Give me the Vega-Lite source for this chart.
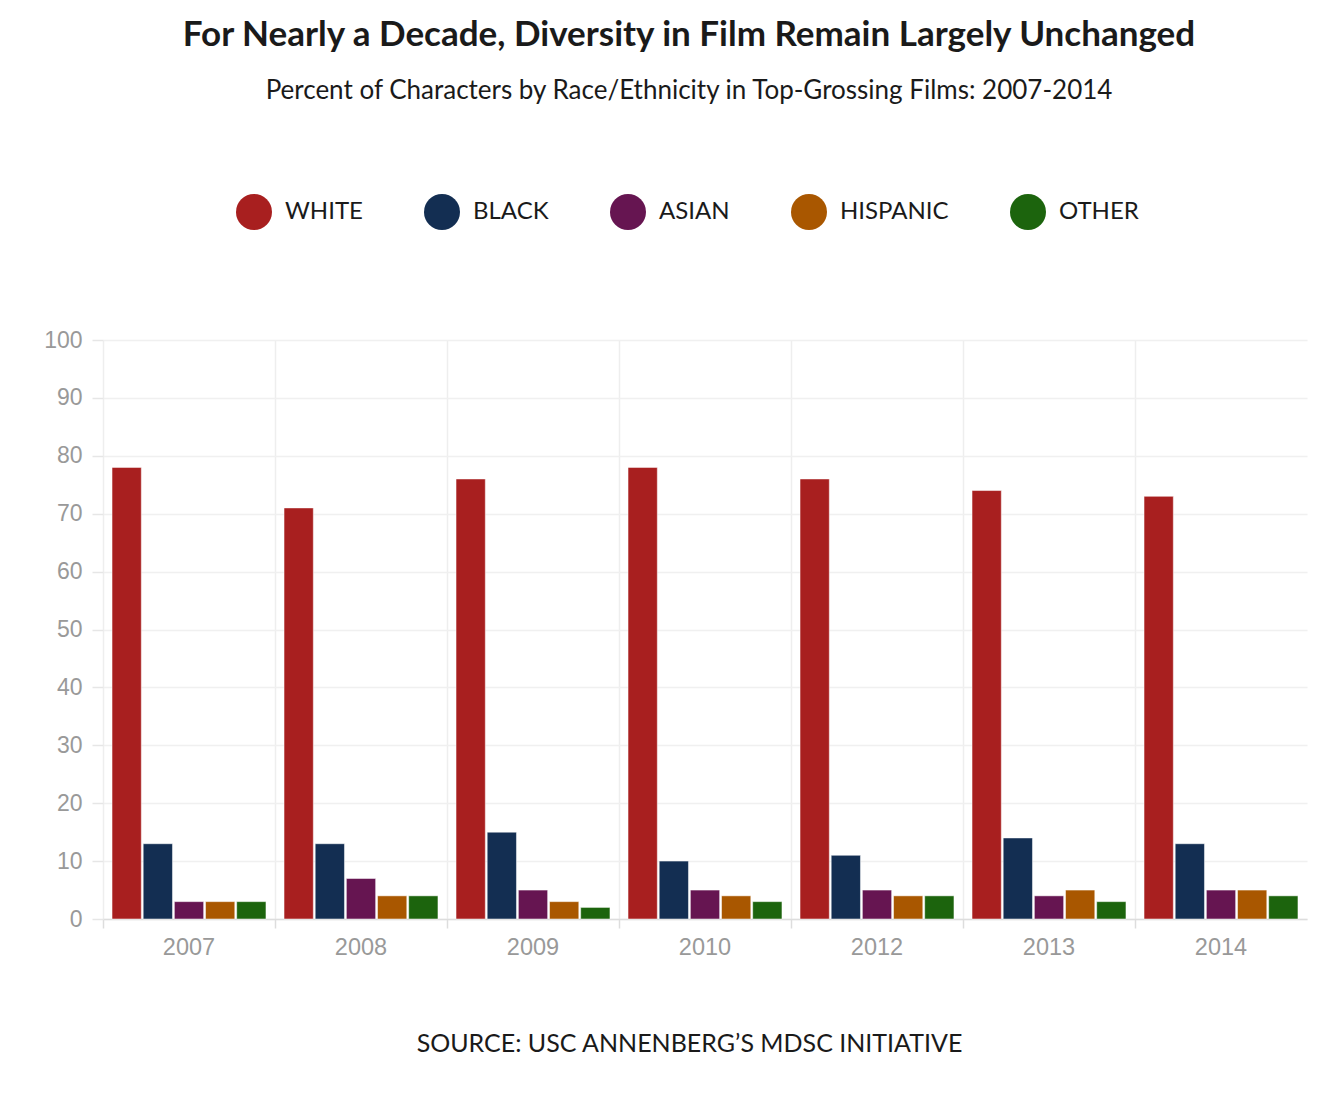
{
  "$schema": "https://vega.github.io/schema/vega-lite/v6.json",
  "width": 1204,
  "height": 579,
  "autosize": {"type": "none"},
  "padding": {"left": 103, "top": 340, "right": 27, "bottom": 195},
  "background": "white",
  "title": {
    "text": "For Nearly a Decade, Diversity in Film Remain Largely Unchanged",
    "subtitle": "Percent of Characters by Race/Ethnicity in Top-Grossing Films: 2007-2014",
    "anchor": "middle",
    "frame": "group",
    "dx": -16,
    "offset": 90,
    "font": "Lato",
    "fontSize": 35,
    "fontWeight": "bold",
    "color": "#1a1a1a",
    "subtitleFont": "Lato",
    "subtitleFontSize": 26,
    "subtitleColor": "#1a1a1a",
    "subtitlePadding": 25
  },
  "data": {
    "values": [
      {"year": "2007", "group": "WHITE", "pct": 78},
      {"year": "2007", "group": "BLACK", "pct": 13},
      {"year": "2007", "group": "ASIAN", "pct": 3},
      {"year": "2007", "group": "HISPANIC", "pct": 3},
      {"year": "2007", "group": "OTHER", "pct": 3},
      {"year": "2008", "group": "WHITE", "pct": 71},
      {"year": "2008", "group": "BLACK", "pct": 13},
      {"year": "2008", "group": "ASIAN", "pct": 7},
      {"year": "2008", "group": "HISPANIC", "pct": 4},
      {"year": "2008", "group": "OTHER", "pct": 4},
      {"year": "2009", "group": "WHITE", "pct": 76},
      {"year": "2009", "group": "BLACK", "pct": 15},
      {"year": "2009", "group": "ASIAN", "pct": 5},
      {"year": "2009", "group": "HISPANIC", "pct": 3},
      {"year": "2009", "group": "OTHER", "pct": 2},
      {"year": "2010", "group": "WHITE", "pct": 78},
      {"year": "2010", "group": "BLACK", "pct": 10},
      {"year": "2010", "group": "ASIAN", "pct": 5},
      {"year": "2010", "group": "HISPANIC", "pct": 4},
      {"year": "2010", "group": "OTHER", "pct": 3},
      {"year": "2012", "group": "WHITE", "pct": 76},
      {"year": "2012", "group": "BLACK", "pct": 11},
      {"year": "2012", "group": "ASIAN", "pct": 5},
      {"year": "2012", "group": "HISPANIC", "pct": 4},
      {"year": "2012", "group": "OTHER", "pct": 4},
      {"year": "2013", "group": "WHITE", "pct": 74},
      {"year": "2013", "group": "BLACK", "pct": 14},
      {"year": "2013", "group": "ASIAN", "pct": 4},
      {"year": "2013", "group": "HISPANIC", "pct": 5},
      {"year": "2013", "group": "OTHER", "pct": 3},
      {"year": "2014", "group": "WHITE", "pct": 73},
      {"year": "2014", "group": "BLACK", "pct": 13},
      {"year": "2014", "group": "ASIAN", "pct": 5},
      {"year": "2014", "group": "HISPANIC", "pct": 5},
      {"year": "2014", "group": "OTHER", "pct": 4}
    ]
  },
  "mark": {"type": "bar", "stroke": "white", "strokeOpacity": 0.5, "strokeWidth": 1},
  "encoding": {
    "x": {
      "field": "year",
      "type": "nominal",
      "sort": null,
      "scale": {"paddingInner": 0.105, "paddingOuter": 0.0525},
      "axis": {
        "title": "SOURCE: USC ANNENBERG’S MDSC INITIATIVE",
        "titleFont": "Lato",
        "titleFontSize": 25,
        "titleFontWeight": "normal",
        "titleColor": "#1a1a1a",
        "titleX": 586,
        "titleY": 132,
        "titleAlign": "center",
        "titleBaseline": "alphabetic",
        "labelAngle": 0,
        "labelFont": "Liberation Sans",
        "labelFontSize": 23.5,
        "labelColor": "#999999",
        "labelPadding": 7,
        "bandPosition": -0.0585,
        "grid": true,
        "gridColor": "#eeeeee",
        "gridWidth": 1.5,
        "ticks": true,
        "tickSize": 9,
        "tickColor": "#dddddd",
        "tickWidth": 1.5,
        "domain": true,
        "domainColor": "#dddddd",
        "domainWidth": 1.5
      }
    },
    "xOffset": {
      "field": "group",
      "type": "nominal",
      "sort": ["WHITE", "BLACK", "ASIAN", "HISPANIC", "OTHER"],
      "scale": {"paddingInner": 0.06, "paddingOuter": 0}
    },
    "y": {
      "field": "pct",
      "type": "quantitative",
      "scale": {"domain": [0, 100]},
      "axis": {
        "title": null,
        "values": [0, 10, 20, 30, 40, 50, 60, 70, 80, 90, 100],
        "labelFont": "Liberation Sans",
        "labelFontSize": 23,
        "labelColor": "#999999",
        "labelPadding": 10,
        "tickSize": 11,
        "tickColor": "#e6e6e6",
        "tickWidth": 1.5,
        "gridColor": "#f0f0f0",
        "gridWidth": 1.5,
        "domain": false
      }
    },
    "color": {
      "field": "group",
      "type": "nominal",
      "sort": ["WHITE", "BLACK", "ASIAN", "HISPANIC", "OTHER"],
      "scale": {
        "domain": ["WHITE", "BLACK", "ASIAN", "HISPANIC", "OTHER"],
        "range": ["#A81F1F", "#132E52", "#661551", "#A95700", "#1C640D"]
      },
      "legend": {
        "title": null,
        "orient": "none",
        "direction": "horizontal",
        "legendX": 133,
        "legendY": -146,
        "symbolType": "circle",
        "symbolSize": 1296,
        "symbolStrokeWidth": 0,
        "symbolOpacity": 1,
        "labelFont": "Lato",
        "labelFontSize": 24,
        "labelColor": "#1a1a1a",
        "labelOffset": 13,
        "columnPadding": 61,
        "padding": 0
      }
    }
  },
  "config": {
    "view": {"stroke": null}
  }
}
